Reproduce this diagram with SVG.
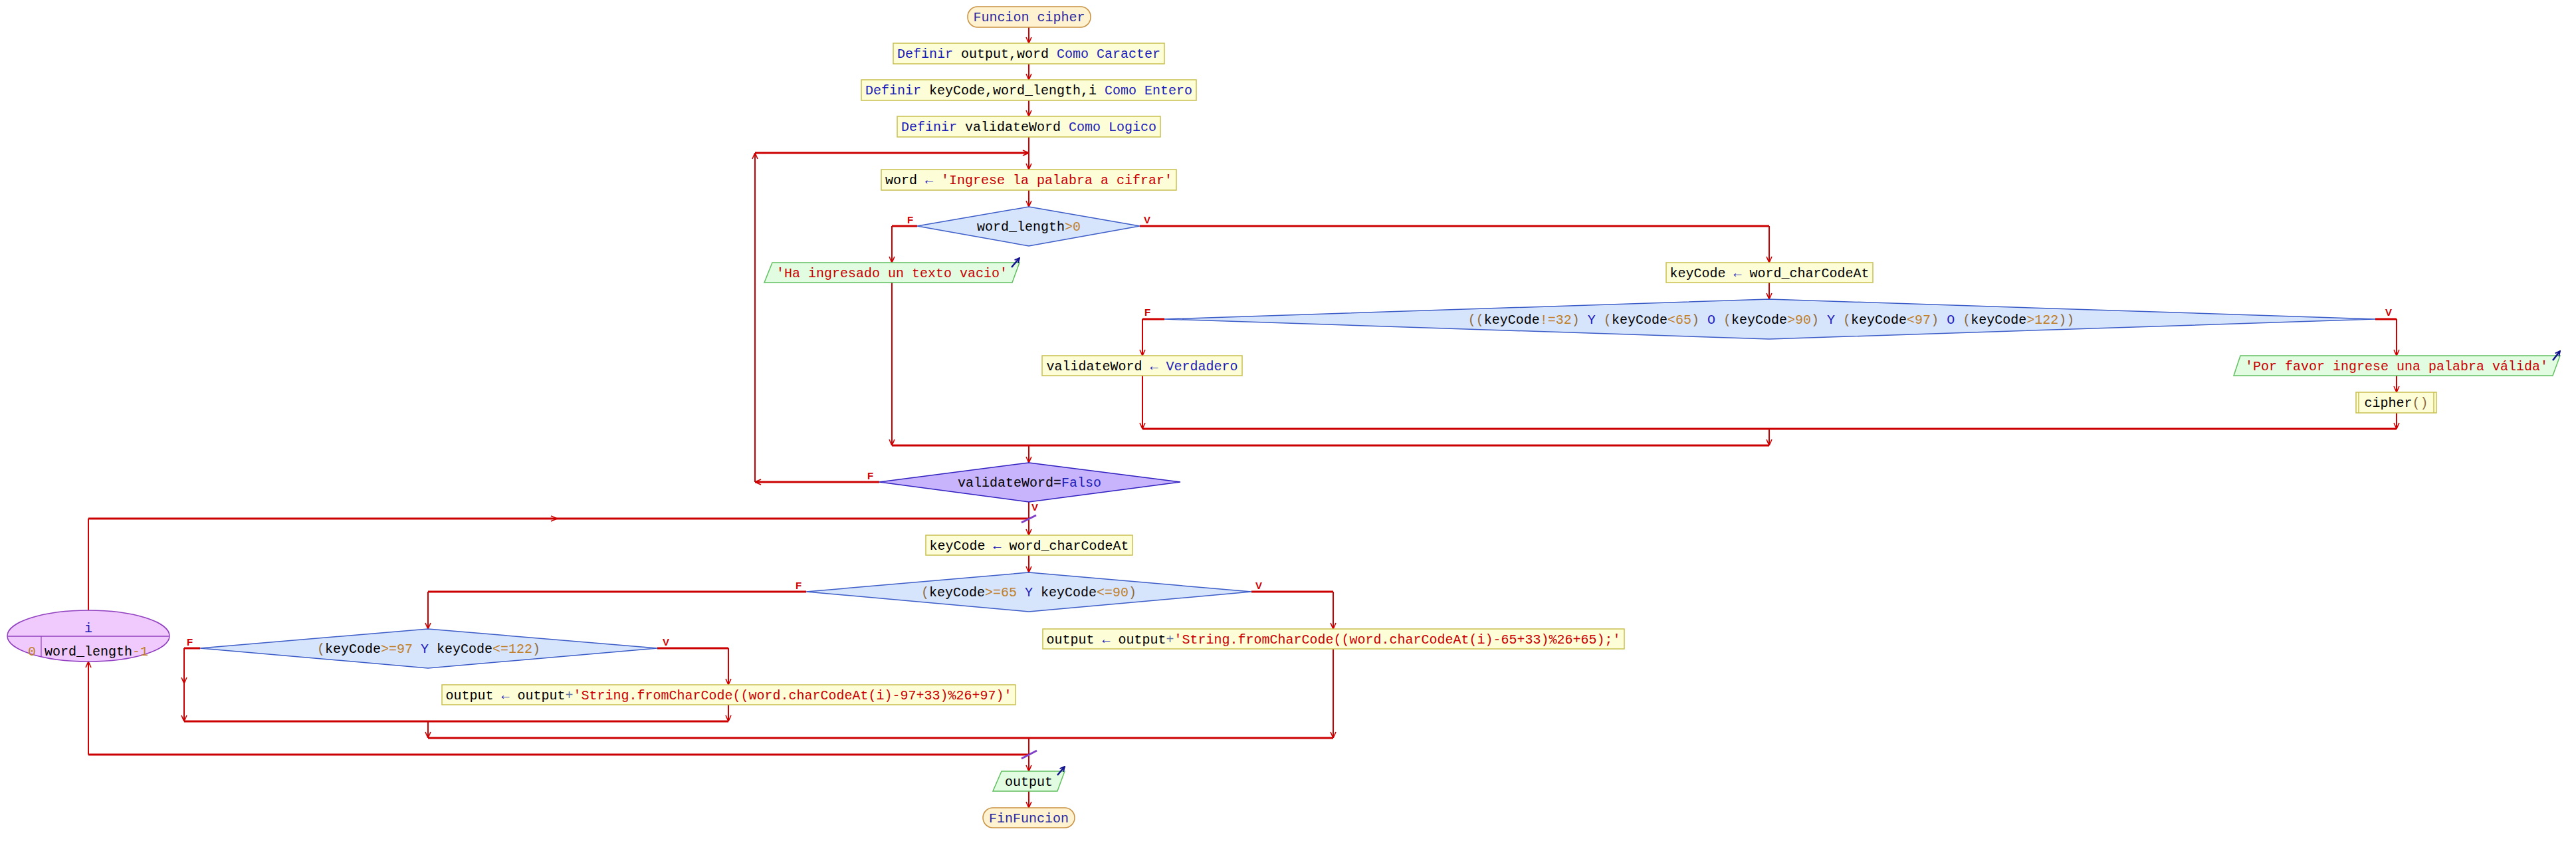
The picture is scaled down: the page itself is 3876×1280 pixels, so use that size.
<svg xmlns="http://www.w3.org/2000/svg" width="3876" height="1280" viewBox="0 0 3876 1280">
<style>
text{font-family:"Liberation Mono","DejaVu Sans Mono",monospace;font-size:20px;fill:#000;white-space:pre}
.k{fill:#1c1cb8}.s{fill:#c80000}.n{fill:#c0802a}.p{fill:#8c6a3c}.pl{fill:#6070a0}
.term{fill:#fff2d0;stroke:#c89040;stroke-width:1.5}
.proc{fill:#fdfdd8;stroke:#c8c050;stroke-width:1.5}
.dec{fill:#d6e4fc;stroke:#3c5cc8;stroke-width:1.5}
.dec2{fill:#c8b4fc;stroke:#3020c0;stroke-width:1.5}
.out{fill:#e2fce2;stroke:#60c060;stroke-width:1.5}
.loop{fill:#f0cafc;stroke:#9040c0;stroke-width:1.5}
.ic{fill:none;stroke:#10108c;stroke-width:2.5}
.c path{fill:none;stroke:#cc0000;stroke-width:2}
.c path.h{stroke-width:3}
.lb{font-family:"Liberation Sans",Arial,sans-serif;font-weight:bold;font-size:15px;fill:#cc0000}
.sl{stroke:#8040c8;stroke-width:3}
</style>
<defs>
<marker id="a" viewBox="0 0 10 10" refX="10" refY="5" markerWidth="10" markerHeight="10" orient="auto" markerUnits="userSpaceOnUse"><path d="M1,1 L10,5 L1,9" fill="none" stroke="#cc0000" stroke-width="1.6"/></marker>
<marker id="io" viewBox="0 0 10 10" refX="9" refY="5" markerWidth="9" markerHeight="9" orient="auto" markerUnits="userSpaceOnUse"><path d="M1,1 L9,5 L1,9" fill="none" stroke="#10108c" stroke-width="2"/></marker>
</defs>
<rect width="3876" height="1280" fill="#fff"/>

<g class="c" id="connectors">
<path d="M1548,41 V65" marker-end="url(#a)"/>
<path d="M1548,96 V120" marker-end="url(#a)"/>
<path d="M1548,151 V175" marker-end="url(#a)"/>
<path d="M1548,206 V255" marker-end="url(#a)"/>
<path d="M1548,286 V311" marker-end="url(#a)"/>
<path class="h" d="M1380,340 H1342"/>
<path d="M1342,340 V395" marker-end="url(#a)"/>
<path class="h" d="M1715,340 H2662"/>
<path d="M2662,340 V395" marker-end="url(#a)"/>
<path d="M1342,425 V670" marker-end="url(#a)"/>
<path d="M2662,425 V450" marker-end="url(#a)"/>
<path class="h" d="M1752,480 H1719"/>
<path d="M1719,480 V535" marker-end="url(#a)"/>
<path class="h" d="M3574,480 H3606"/>
<path d="M3606,480 V535" marker-end="url(#a)"/>
<path d="M3606,565 V590" marker-end="url(#a)"/>
<path d="M3606,621 V645" marker-end="url(#a)"/>
<path d="M1719,565 V645" marker-end="url(#a)"/>
<path class="h" d="M1719,645 H3606"/>
<path d="M2662,645 V670" marker-end="url(#a)"/>
<path class="h" d="M1342,670 H2662"/>
<path d="M1548,670 V696" marker-end="url(#a)"/>
<path class="h" d="M1323,725 H1136" marker-end="url(#a)"/>
<path d="M1136,725 V230" marker-end="url(#a)"/>
<path class="h" d="M1136,230 H1548" marker-end="url(#a)"/>
<path d="M1548,755 V805" marker-end="url(#a)"/>
<path d="M133,918 V780"/>
<path class="h" d="M133,780 H838" marker-end="url(#a)"/>
<path class="h" d="M838,780 H1548"/>
<path d="M1548,835 V861" marker-end="url(#a)"/>
<path class="h" d="M1213,890 H644"/>
<path d="M644,890 V946" marker-end="url(#a)"/>
<path class="h" d="M1883,890 H2006"/>
<path d="M2006,890 V946" marker-end="url(#a)"/>
<path class="h" d="M301,975 H277"/>
<path d="M277,975 V1028" marker-end="url(#a)"/>
<path d="M277,1028 V1085" marker-end="url(#a)"/>
<path class="h" d="M989,975 H1096"/>
<path d="M1096,975 V1030" marker-end="url(#a)"/>
<path d="M1096,1060 V1085" marker-end="url(#a)"/>
<path class="h" d="M277,1085 H1096"/>
<path d="M644,1085 V1110" marker-end="url(#a)"/>
<path d="M2006,975 V1110" marker-end="url(#a)"/>
<path class="h" d="M644,1110 H2006"/>
<path d="M1548,1110 V1160" marker-end="url(#a)"/>
<path class="h" d="M133,1135 H1548"/>
<path d="M133,1135 V995" marker-end="url(#a)"/>
<path d="M1548,1190 V1215" marker-end="url(#a)"/>
<line class="sl" x1="1537" y1="786" x2="1559" y2="775"/>
<line class="sl" x1="1537" y1="1141" x2="1560" y2="1129"/>
<text class="lb" x="1365" y="336">F</text>
<text class="lb" x="1721" y="336">V</text>
<text class="lb" x="1722" y="475">F</text>
<text class="lb" x="3589" y="475">V</text>
<text class="lb" x="1305" y="721">F</text>
<text class="lb" x="1552" y="768">V</text>
<text class="lb" x="1197" y="886">F</text>
<text class="lb" x="1889" y="886">V</text>
<text class="lb" x="281" y="971">F</text>
<text class="lb" x="997" y="971">V</text>
</g>

<g id="start"><rect class="term" x="1456" y="10" width="185" height="31" rx="15"/><text x="1548.5" y="32" text-anchor="middle" fill="#2828a0" style="fill:#2828a0">Funcion cipher</text></g>
<g id="def1"><rect class="proc" x="1344" y="65" width="408" height="31"/><text x="1548" y="87" text-anchor="middle"><tspan class="k">Definir</tspan> output,word <tspan class="k">Como Caracter</tspan></text></g>
<g id="def2"><rect class="proc" x="1296" y="120" width="504" height="31"/><text x="1548" y="142" text-anchor="middle"><tspan class="k">Definir</tspan> keyCode,word_length,i <tspan class="k">Como Entero</tspan></text></g>
<g id="def3"><rect class="proc" x="1350" y="175" width="396" height="31"/><text x="1548" y="197" text-anchor="middle"><tspan class="k">Definir</tspan> validateWord <tspan class="k">Como Logico</tspan></text></g>
<g id="read"><rect class="proc" x="1326" y="255" width="444" height="31"/><text x="1548" y="277" text-anchor="middle">word <tspan class="k">←</tspan> <tspan class="s">'Ingrese la palabra a cifrar'</tspan></text></g>
<g id="ifLen"><polygon class="dec" points="1548,311 1715,340 1548,370 1380,340"/><text x="1548" y="347" text-anchor="middle">word_length<tspan class="n">&gt;0</tspan></text></g>
<g id="outEmpty"><polygon class="out" points="1162,395 1534,395 1523,425 1150,425"/><text x="1342" y="417" text-anchor="middle" class="s">'Ha ingresado un texto vacio'</text><path class="ic" d="M1522,402 L1534,388" marker-end="url(#io)"/></g>
<g id="kc1"><rect class="proc" x="2507" y="395" width="311" height="30"/><text x="2662.5" y="417" text-anchor="middle">keyCode <tspan class="k">←</tspan> word_charCodeAt</text></g>
<g id="ifChars"><polygon class="dec" points="2662,450 3574,480 2662,510 1752,480"/><text x="2665" y="487" text-anchor="middle"><tspan class="p">((</tspan>keyCode<tspan class="n">!=32</tspan><tspan class="p">)</tspan> <tspan class="k">Y</tspan> <tspan class="p">(</tspan>keyCode<tspan class="n">&lt;65</tspan><tspan class="p">)</tspan> <tspan class="k">O</tspan> <tspan class="p">(</tspan>keyCode<tspan class="n">&gt;90</tspan><tspan class="p">)</tspan> <tspan class="k">Y</tspan> <tspan class="p">(</tspan>keyCode<tspan class="n">&lt;97</tspan><tspan class="p">)</tspan> <tspan class="k">O</tspan> <tspan class="p">(</tspan>keyCode<tspan class="n">&gt;122</tspan><tspan class="p">))</tspan></text></g>
<g id="setTrue"><rect class="proc" x="1568" y="535" width="301" height="30"/><text x="1718.5" y="557" text-anchor="middle">validateWord <tspan class="k">← Verdadero</tspan></text></g>
<g id="outInvalid"><polygon class="out" points="3371,535 3852,535 3841,565 3361,565"/><text x="3606" y="557" text-anchor="middle" class="s">'Por favor ingrese una palabra válida'</text><path class="ic" d="M3841,542 L3852,528" marker-end="url(#io)"/></g>
<g id="call"><rect class="proc" x="3545" y="590" width="121" height="31"/><line x1="3549" y1="590" x2="3549" y2="621" stroke="#c8c050" stroke-width="1.5"/><line x1="3662" y1="590" x2="3662" y2="621" stroke="#c8c050" stroke-width="1.5"/><text x="3605.5" y="612" text-anchor="middle">cipher<tspan class="p">()</tspan></text></g>
<g id="untilFalse"><polygon class="dec2" points="1548,696 1776,725 1548,755 1323,725"/><text x="1549" y="732" text-anchor="middle">validateWord=<tspan class="k">Falso</tspan></text></g>
<g id="kc2"><rect class="proc" x="1393" y="805" width="311" height="30"/><text x="1548.5" y="827" text-anchor="middle">keyCode <tspan class="k">←</tspan> word_charCodeAt</text></g>
<g id="ifUpper"><polygon class="dec" points="1548,861 1883,890 1548,920 1213,890"/><text x="1548" y="897" text-anchor="middle"><tspan class="p">(</tspan>keyCode<tspan class="n">&gt;=65</tspan> <tspan class="k">Y</tspan> keyCode<tspan class="n">&lt;=90</tspan><tspan class="p">)</tspan></text></g>
<g id="ifLower"><polygon class="dec" points="644,946 989,975 644,1005 301,975"/><text x="645" y="982" text-anchor="middle"><tspan class="p">(</tspan>keyCode<tspan class="n">&gt;=97</tspan> <tspan class="k">Y</tspan> keyCode<tspan class="n">&lt;=122</tspan><tspan class="p">)</tspan></text></g>
<g id="encUpper"><rect class="proc" x="1569" y="946" width="875" height="30"/><text x="2006.5" y="968" text-anchor="middle">output <tspan class="k">←</tspan> output<tspan class="pl">+</tspan><tspan class="s">'String.fromCharCode((word.charCodeAt(i)-65+33)%26+65);'</tspan></text></g>
<g id="encLower"><rect class="proc" x="665" y="1030" width="863" height="30"/><text x="1096.5" y="1052" text-anchor="middle">output <tspan class="k">←</tspan> output<tspan class="pl">+</tspan><tspan class="s">'String.fromCharCode((word.charCodeAt(i)-97+33)%26+97)'</tspan></text></g>
<g id="forLoop"><ellipse class="loop" cx="133" cy="956.5" rx="122" ry="38.5"/><line x1="11" y1="957" x2="255" y2="957" stroke="#9040c0" stroke-width="1.5"/><line x1="62" y1="957" x2="62" y2="988" stroke="#9040c0" stroke-width="1.2"/><text x="133" y="951" text-anchor="middle" class="k">i</text><text x="48" y="986" text-anchor="middle" class="n">0</text><text x="67" y="986">word_length<tspan class="n">-1</tspan></text></g>
<g id="outResult"><polygon class="out" points="1507,1160 1602,1160 1591,1190 1494,1190"/><text x="1548" y="1182" text-anchor="middle">output</text><path class="ic" d="M1591,1166 L1602,1153" marker-end="url(#io)"/></g>
<g id="end"><rect class="term" x="1479" y="1215" width="138" height="30" rx="15"/><text x="1548" y="1237" text-anchor="middle" style="fill:#2828a0">FinFuncion</text></g>
</svg>
